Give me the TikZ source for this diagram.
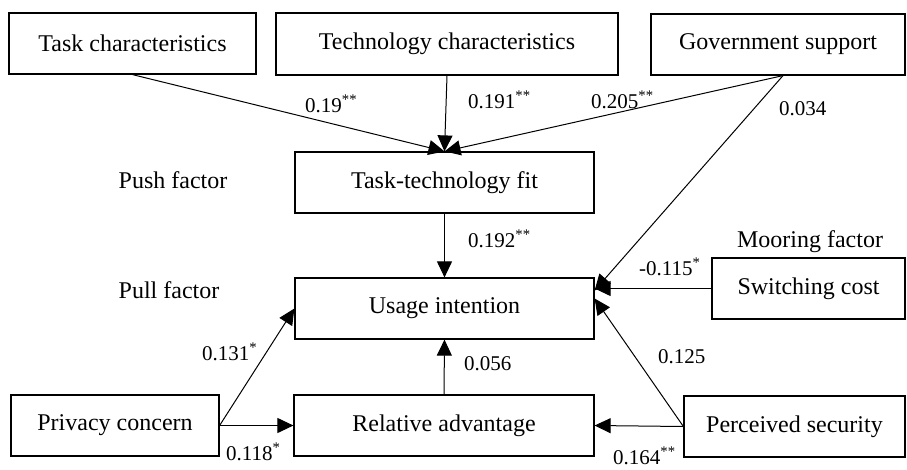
\documentclass[tikz,border=0pt]{standalone}
\usepackage{fontspec}
\setmainfont{Liberation Serif}
\usetikzlibrary{arrows.meta}
\begin{document}
\begin{tikzpicture}[x=1pt,y=-1pt,
  box/.style={draw,line width=1.2pt,rectangle,inner sep=0pt,font=\fontsize{24}{28}\selectfont},
  lbl/.style={anchor=base west,inner sep=0pt,font=\fontsize{21}{25}\selectfont},
  fac/.style={inner sep=0pt,font=\fontsize{24}{28}\selectfont},
  arr/.style={line width=1pt,-{Triangle[length=16pt,width=15pt]}}]
\useasboundingbox (0,0) rectangle (907,469);
\node[box,minimum width=247pt,minimum height=61pt] (tc) at (132.5,43.5) {Task characteristics};
\node[box,minimum width=342pt,minimum height=62pt] (tech) at (447,44) {Technology characteristics};
\node[box,minimum width=254pt,minimum height=61pt] (gov) at (778,44.5) {Government support};
\node[box,minimum width=299pt,minimum height=61pt] (ttf) at (444.5,182.5) {Task-technology fit};
\node[box,minimum width=299pt,minimum height=61pt] (ui) at (444.5,308.5) {Usage intention};
\node[box,minimum width=193pt,minimum height=61pt] (sc) at (808.5,288.5) {Switching cost};
\node[box,minimum width=208pt,minimum height=61pt] (pc) at (115,425.5) {Privacy concern};
\node[box,minimum width=300pt,minimum height=61pt] (ra) at (444,425.5) {Relative advantage};
\node[box,minimum width=221pt,minimum height=61pt] (ps) at (794.5,426.5) {Perceived security};

\node[fac] (push) at (173,180) {Push factor};
\node[fac] (pull) at (169,290) {Pull factor};
\node[fac] (moor) at (810,242) {Mooring factor};

\coordinate (gs) at ([xshift=5pt]gov.south);
\coordinate (uiA) at ([yshift=18pt]ui.east);
\coordinate (uiB) at ([yshift=10pt]ui.east);

\draw[arr] (tc.south) -- (ttf.north);
\draw[arr] (tech.south) -- (ttf.north);
\draw[arr] (gs) -- (ttf.north);
\draw[arr] (gs) -- (uiA);
\draw[arr] (sc.west) -- (sc.west -| ui.east);
\draw[arr] (ps.west) -- (uiB);
\draw[arr] (ps.west) -- (ra.east);
\draw[arr] (ttf.south) -- (ui.north);
\draw[arr] (ra.north) -- (ui.south);
\draw[arr] (pc.east) -- (ui.west);
\draw[arr] (pc.east) -- (ra.west);

\node[lbl] (l1) at (305,112) {0.19\textsuperscript{**}};
\node[lbl] (l2) at (468,108) {0.191\textsuperscript{**}};
\node[lbl] (l3) at (591,108) {0.205\textsuperscript{**}};
\node[lbl] (l4) at (779,115) {0.034};
\node[lbl] (l5) at (468,247) {0.192\textsuperscript{**}};
\node[lbl] (l6) at (639,275) {-0.115\textsuperscript{*}};
\node[lbl] (l7) at (202,360) {0.131\textsuperscript{*}};
\node[lbl] (l8) at (464,370) {0.056};
\node[lbl] (l9) at (658,363) {0.125};
\node[lbl] (l10) at (226,460) {0.118\textsuperscript{*}};
\node[lbl] (l11) at (613,464) {0.164\textsuperscript{**}};
\end{tikzpicture}
\end{document}
